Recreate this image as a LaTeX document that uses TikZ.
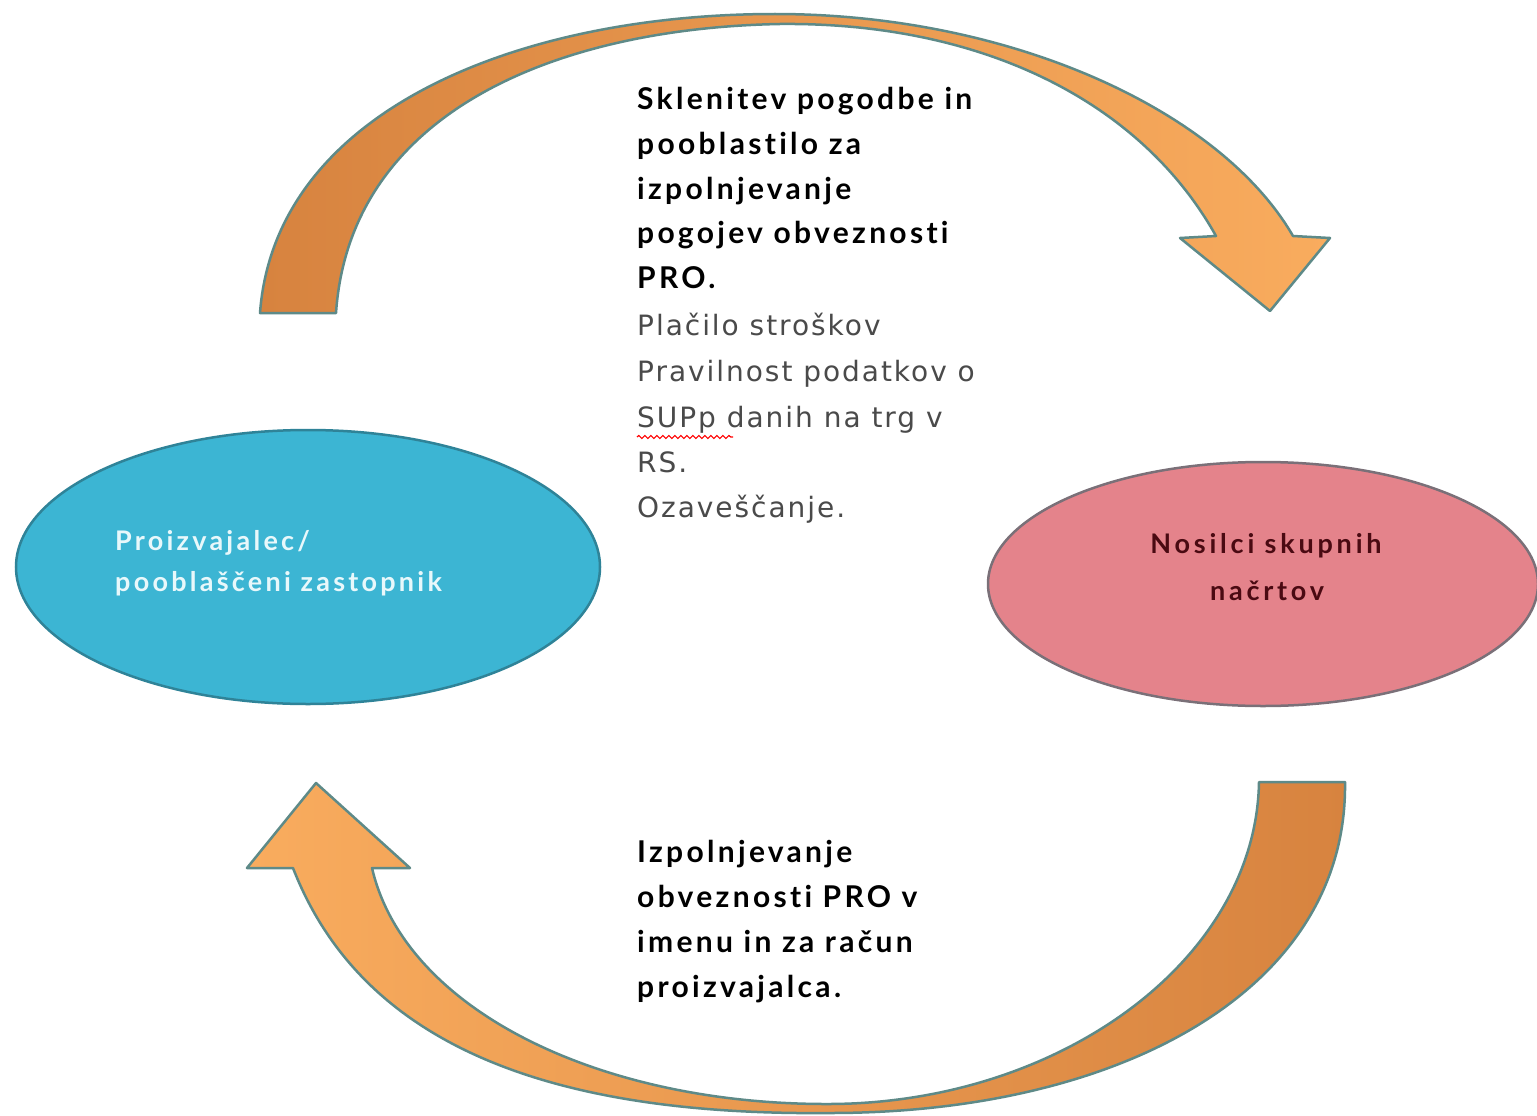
\documentclass[tikz,border=0pt]{standalone}
\usepackage{fontspec}
\setmainfont{Lato}[Ligatures=NoCommon]
\newfontfamily\boldsp{Lato}[Ligatures=NoCommon, LetterSpace=11]
\newfontfamily\ovalsp{Lato}[Ligatures=NoCommon, LetterSpace=12]
\newfontfamily\nossp{Lato}[Ligatures=NoCommon, LetterSpace=14]
\newfontfamily\regfont{DejaVu Sans}[LetterSpace=7]
\usetikzlibrary{shapes.geometric,decorations.pathmorphing}
\definecolor{blueF}{HTML}{3CB5D3}
\definecolor{blueE}{HTML}{2F8398}
\definecolor{pinkF}{HTML}{E4838B}
\definecolor{pinkE}{HTML}{7A7078}
\definecolor{arrDark}{HTML}{D7833F}
\definecolor{arrLight}{HTML}{F9AC5E}
\definecolor{arrEdge}{HTML}{5E8A88}
\definecolor{grayTxt}{HTML}{4A4A4A}
\definecolor{maroon}{HTML}{4A0A12}
\definecolor{paleTxt}{HTML}{E8F8FB}
\tikzset{
  boldtxt/.style={anchor=base west, inner sep=0pt, font=\boldsp\fontsize{30}{36}\selectfont\bfseries, text=black},
  regtxt/.style={anchor=base west, inner sep=0pt, font=\regfont\fontsize{28}{34}\selectfont, text=grayTxt},
  blockarrow/.style={draw=arrEdge, line width=2.5pt, line join=round},
  oval/.style={ellipse, line width=2.5pt, inner sep=0pt}
}
\begin{document}
\begin{tikzpicture}[x=1pt,y=-1pt]
\useasboundingbox[fill=white] (0,0) rectangle (1537,1116);

% ellipses
\node[oval, fill=blueF, draw=blueE, minimum width=584pt, minimum height=274pt] (prod) at (308,567) {};
\node[oval, fill=pinkF, draw=pinkE, minimum width=550pt, minimum height=244pt] (nos) at (1263,584) {};

\node[anchor=base west, inner sep=0pt, text=paleTxt, font=\ovalsp\fontsize{27}{32}\selectfont\bfseries] (p1) at (115,550) {Proizvajalec/};
\node[anchor=base west, inner sep=0pt, text=paleTxt, font=\ovalsp\fontsize{27}{32}\selectfont\bfseries] (p2) at (115,591) {pooblaščeni zastopnik};

\node[anchor=base, inner sep=0pt, text=maroon, font=\nossp\fontsize{27}{32}\selectfont\bfseries] (n1) at (1266,553) {Nosilci skupnih};
\node[anchor=base, inner sep=0pt, text=maroon, font=\nossp\fontsize{27}{32}\selectfont\bfseries] (n2) at (1267,600) {načrtov};

% top curved arrow
\path[blockarrow, left color=arrDark, right color=arrLight]
  (260,313) .. controls (275,110) and (520,14) .. (775,14)
  .. controls (1010,14) and (1220,110) .. (1293,236)
  -- (1330,238) -- (1270,311) -- (1180,238) -- (1216,236)
  .. controls (1140,100) and (980,22) .. (780,24)
  .. controls (560,28) and (350,110) .. (336,313) -- cycle;

% bottom curved arrow
\path[blockarrow, left color=arrLight, right color=arrDark]
  (1345,782) .. controls (1348,990) and (1120,1113) .. (830,1113)
  .. controls (540,1116) and (360,1040) .. (293,868)
  -- (247,868) -- (316,783) -- (410,868) -- (372,868)
  .. controls (405,1010) and (600,1105) .. (830,1104)
  .. controls (1060,1103) and (1256,960) .. (1259,782) -- cycle;

% top text
\node[boldtxt] (t1) at (637,110) {Sklenitev pogodbe in};
\node[boldtxt] (t2) at (637,154.5) {pooblastilo za};
\node[boldtxt] (t3) at (637,199) {izpolnjevanje};
\node[boldtxt] (t4) at (637,243.5) {pogojev obveznosti};
\node[boldtxt] (t5) at (637,288) {PRO.};
\node[regtxt] (r1) at (637,335) {Plačilo stroškov};
\node[regtxt] (r2) at (637,381) {Pravilnost podatkov o};
\node[regtxt] (r3) at (637,427) {SUPp danih na trg v};
\node[regtxt] (r4) at (637,472) {RS.};
\node[regtxt] (r5) at (637,517) {Ozaveščanje.};
\draw[red, line width=1.2pt, decorate, decoration={snake, amplitude=1.5pt, segment length=6pt}] (637,437) -- (733,437);

% bottom text
\node[boldtxt] (b1) at (637,862) {Izpolnjevanje};
\node[boldtxt] (b2) at (637,907) {obveznosti PRO v};
\node[boldtxt] (b3) at (637,952) {imenu in za račun};
\node[boldtxt] (b4) at (637,997) {proizvajalca.};
\end{tikzpicture}
\end{document}
